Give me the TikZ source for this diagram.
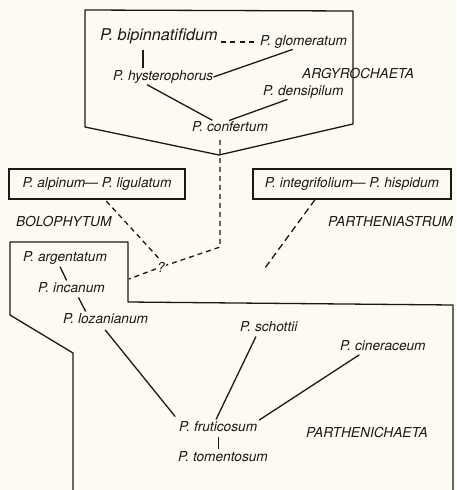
\documentclass[tikz,border=0pt]{standalone}
\usepackage{fontspec}
\setmainfont{TeX Gyre Heros}
\definecolor{paper}{RGB}{252,250,241}
\definecolor{ink}{RGB}{25,25,25}
\begin{document}
\begin{tikzpicture}
[x=1pt,y=-1pt,
  taxondecorate/.style={anchor=west,inner sep=0pt,text height=10.3pt,text depth=2.8pt,%
    text=ink,font=\itshape\fontsize{13.7}{16}\selectfont},
  bigdecorate/.style={taxondecorate,font=\itshape\fontsize{16.2}{19}\selectfont},
  boxdecorate/.style={draw=ink,line width=1.3pt,inner sep=0pt,minimum height=30pt,%
    text=ink,font=\itshape\fontsize{13.7}{16}\selectfont},
  linedecorate/.style={draw=ink,line width=1.3pt,shorten <=2pt,shorten >=2pt},
  dashdecorate/.style={draw=ink,line width=1.3pt,dash pattern=on 5pt off 4pt}]
\useasboundingbox[fill=paper] (0,0) rectangle (456,490);
% group outlines
\draw[ink,line width=1.3pt,line join=round] (85,10) -- (353,11) -- (353,124) -- (219,155) -- (85,127) -- cycle;
\draw[ink,line width=1.3pt,line join=round] (73,490) -- (73,353) -- (10,315) -- (10,242) -- (128,242)
  -- (128,302) -- (453,305) -- (453,490);
% nodes or vertices
\node (bip) at (100,37) [bigdecorate] {P. bipinnatifidum};
\node (glo) at (260,42) [taxondecorate] {P. glomeratum};
\node (hys) at (113,77) [taxondecorate] {P. hysterophorus};
\node (den) at (263,92) [taxondecorate] {P. densipilum};
\node (con) at (192,128) [taxondecorate] {P. confertum};
\node at (302,75) [taxondecorate] {ARGYROCHAETA};
\node (alp) at (97,184) [boxdecorate,minimum width=176pt] {P. alpinum\kern-1pt--- P. ligulatum};
\node (int) at (352,184) [boxdecorate,minimum width=198pt] {P. integrifolium\kern-1pt--- P. hispidum};
\node at (16,223) [taxondecorate] {BOLOPHYTUM};
\node at (328,223) [taxondecorate] {PARTHENIASTRUM};
\node (q) at (161,267) [inner sep=1pt,text=ink,font=\itshape\fontsize{13.7}{16}\selectfont] {?};
\node (arg) at (23,258) [taxondecorate] {P. argentatum};
\node (inc) at (38,289) [taxondecorate] {P. incanum};
\node (loz) at (63,320) [taxondecorate] {P. lozanianum};
\node (sch) at (240,328) [taxondecorate] {P. schottii};
\node (cin) at (340,347) [taxondecorate] {P. cineraceum};
\node (fru) at (179,428) [taxondecorate] {P. fruticosum};
\node (tom) at (178,458) [taxondecorate] {P. tomentosum};
\node at (306,434) [taxondecorate] {PARTHENICHAETA};
\coordinate (bend) at (220,247);
\coordinate (argside) at (129,279);
\coordinate (partend) at (265,268);
% edges or lines
\path
([xshift=-16pt]bip.south) edge[linedecorate,shorten <=6pt] ([xshift=-16pt]bip.south |- hys.north)
(glo.west -| bip.east) edge[draw=ink,line width=1.3pt,dash pattern=on 5pt off 4.5pt,shorten <=3pt,shorten >=3pt] (glo.west)
(hys.east) edge[linedecorate,shorten <=0pt] ([xshift=-9pt]glo.south)
([xshift=-18pt]hys.south) edge[linedecorate] ([xshift=-16pt]con.north)
([xshift=-14pt]den.south) edge[linedecorate] ([xshift=-3pt]con.north)
([xshift=-6pt]arg.south) edge[linedecorate] ([xshift=-4pt]inc.north)
([xshift=6pt]inc.south) edge[linedecorate] ([xshift=-19pt]loz.north)
([xshift=-3pt]loz.south) edge[linedecorate,shorten <=4pt,shorten >=6pt] (fru.north west)
([xshift=-12pt]sch.south) edge[linedecorate] ([xshift=-3pt]fru.north)
([xshift=-22pt]cin.south) edge[linedecorate] (fru.north east)
(fru.south) edge[linedecorate] (fru.south |- tom.north);
\draw[dashdecorate,shorten <=5pt] (con.south -| bend) -- (bend) -- (q);
\draw[dashdecorate] (q) -- (argside);
\draw[dashdecorate,shorten <=2pt] ([xshift=8pt]alp.south) -- (q.north);
\draw[dashdecorate,dash pattern=on 7pt off 4pt] ([xshift=-37pt]int.south) -- (partend);
\end{tikzpicture}
\end{document}
